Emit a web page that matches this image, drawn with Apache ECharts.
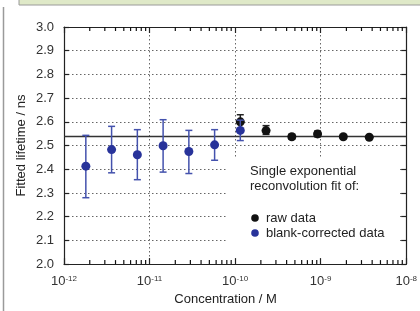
<!DOCTYPE html>
<html>
<head>
<meta charset="utf-8">
<script src="https://cdn.jsdelivr.net/npm/echarts@6/dist/echarts.min.js"></script>
<style>
  html, body { margin: 0; padding: 0; background: #fff; }
  #chart { width: 420px; height: 311px; }
</style>
</head>
<body>
<div id="chart"></div>
<script type="text/javascript">
    // blank-corrected data (blue)
    var blueConc = [1.8e-12, 3.6e-12, 7.2e-12, 1.44e-11, 2.88e-11, 5.76e-11, 1.15e-10];
    var blueLife = [2.413, 2.483, 2.461, 2.499, 2.475, 2.503, 2.564];
    var blueLow  = [2.280, 2.385, 2.356, 2.388, 2.382, 2.438, 2.521];
    var blueHigh = [2.543, 2.581, 2.567, 2.609, 2.564, 2.567, 2.607];

    // raw data (black)
    var rawConc = [1.15e-10, 2.3e-10, 4.6e-10, 9.2e-10, 1.84e-9, 3.7e-9];
    var rawLife = [2.600, 2.563, 2.537, 2.549, 2.537, 2.535];
    var rawLow  = [2.570, 2.547, 2.527, 2.537, 2.530, 2.530];
    var rawHigh = [2.630, 2.584, 2.547, 2.561, 2.544, 2.540];

    var fitLife = 2.54;
    var xMin = 1e-12, xMax = 1e-8;
    var yMin = 2.0, yMax = 3.0, yStep = 0.1;

    // minor ticks of the log axis (2..9 x 10^k)
    var minorTicks = [];
    for (var k = -12; k < -8; k++) {
        for (var m = 2; m <= 9; m++) {
            minorTicks.push([m * Math.pow(10, k), yMin]);
        }
    }

    var font = 'Liberation Sans, Arial, sans-serif';
    var axisColor = '#222';
    var navy = '#28339a';
    var gridLine = { color: '#666', type: [1.5, 2.5], width: 1 };

    var chart = echarts.init(document.getElementById('chart'));

    function errData(xs, lo, hi) {
        return xs.map(function (x, i) { return [x, lo[i], hi[i]]; });
    }
    function pts(xs, ys) {
        return xs.map(function (x, i) { return [x, ys[i]]; });
    }

    function errorBars(color) {
        return function (params, api) {
            var top = api.coord([api.value(0), api.value(2)]);
            var bot = api.coord([api.value(0), api.value(1)]);
            var w = 3.5;
            var st = { stroke: color, lineWidth: 1.5 };
            return {
                type: 'group',
                children: [
                    { type: 'line', shape: { x1: top[0], y1: top[1], x2: bot[0], y2: bot[1] }, style: st },
                    { type: 'line', shape: { x1: top[0] - w, y1: top[1], x2: top[0] + w, y2: top[1] }, style: st },
                    { type: 'line', shape: { x1: bot[0] - w, y1: bot[1], x2: bot[0] + w, y2: bot[1] }, style: st }
                ]
            };
        };
    }

    var option = {
        animation: false,
        textStyle: { fontFamily: font },
        grid: { left: 64, right: 12, top: 27, bottom: 46 },
        xAxis: [
            {
                type: 'log', logBase: 10, min: xMin, max: xMax,
                name: 'Concentration / M', nameLocation: 'middle', nameGap: 28,
                nameTextStyle: { fontSize: 13, color: '#222', padding: [0, 19, 0, 0] },
                axisLine: { lineStyle: { color: axisColor, width: 1.2 } },
                axisTick: { inside: true, length: 6, lineStyle: { color: axisColor, width: 1.2 } },
                axisLabel: {
                    fontSize: 13, color: '#333', margin: 11,
                    formatter: function (v) {
                        return '10{s|' + Math.round(Math.log(v) / Math.LN10) + '}';
                    },
                    rich: { s: { fontSize: 8, verticalAlign: 'top', color: '#333' } }
                },
                splitLine: { show: true, lineStyle: gridLine }
            },
            {
                type: 'log', logBase: 10, min: xMin, max: xMax, position: 'top',
                axisLine: { lineStyle: { color: axisColor, width: 1.2 } },
                axisTick: { inside: true, length: 6, lineStyle: { color: axisColor, width: 1.2 } },
                axisLabel: { show: false },
                splitLine: { show: false }
            }
        ],
        yAxis: [
            {
                type: 'value', min: yMin, max: yMax, interval: yStep,
                name: 'Fitted lifetime / ns', nameLocation: 'middle', nameGap: 36,
                nameMoveOverlap: false,
                nameTextStyle: { fontSize: 13, color: '#222' },
                axisLine: { show: true, lineStyle: { color: axisColor, width: 1.2 } },
                axisTick: { show: true, inside: true, length: 5, lineStyle: { color: axisColor, width: 1.2 } },
                axisLabel: {
                    fontSize: 13, color: '#333', margin: 10,
                    formatter: function (v) { return v.toFixed(1); }
                },
                splitLine: { show: true, lineStyle: gridLine }
            },
            {
                type: 'value', min: yMin, max: yMax, interval: yStep, position: 'right',
                axisLine: { show: true, lineStyle: { color: axisColor, width: 1.2 } },
                axisTick: { show: true, inside: true, length: 5, lineStyle: { color: axisColor, width: 1.2 } },
                axisLabel: { show: false },
                splitLine: { show: false }
            }
        ],
        graphic: [
            // figure frame
            { type: 'rect', shape: { x: 19, y: -2, width: 410, height: 7 },
              style: { fill: '#dfe9c8', stroke: '#9a9a9a', lineWidth: 1 }, z: 10 },
            { type: 'line', shape: { x1: 3.5, y1: 7, x2: 3.5, y2: 311 },
              style: { stroke: '#9a9a9a', lineWidth: 1.5 }, z: 10 },
            // legend box
            { type: 'rect', shape: { x: 227, y: 157, width: 172, height: 100 },
              style: { fill: '#fff' }, z: 5 },
            { type: 'text', x: 250, y: 171, z: 6,
              style: { text: 'Single exponential', font: '13px ' + font, fill: '#222', verticalAlign: 'middle' } },
            { type: 'text', x: 250, y: 186, z: 6,
              style: { text: 'reconvolution fit of:', font: '13px ' + font, fill: '#222', verticalAlign: 'middle' } },
            { type: 'circle', shape: { cx: 255, cy: 218, r: 3.8 }, style: { fill: '#111' }, z: 6 },
            { type: 'text', x: 266, y: 218, z: 6,
              style: { text: 'raw data', font: '13px ' + font, fill: '#222', verticalAlign: 'middle' } },
            { type: 'circle', shape: { cx: 255, cy: 233, r: 3.8 }, style: { fill: navy }, z: 6 },
            { type: 'text', x: 266, y: 233, z: 6,
              style: { text: 'blank-corrected data', font: '13px ' + font, fill: '#222', verticalAlign: 'middle' } }
        ],
        series: [
            {
                // minor log ticks on top and bottom axes
                name: 'minor ticks', type: 'custom', z: 8, clip: false, silent: true,
                data: minorTicks,
                renderItem: function (params, api) {
                    var b = api.coord([api.value(0), yMin]);
                    var t = api.coord([api.value(0), yMax]);
                    var st = { stroke: '#111', lineWidth: 1.2 };
                    return {
                        type: 'group',
                        children: [
                            { type: 'line', shape: { x1: b[0], y1: b[1], x2: b[0], y2: b[1] - 4 }, style: st },
                            { type: 'line', shape: { x1: t[0], y1: t[1], x2: t[0], y2: t[1] + 4 }, style: st }
                        ]
                    };
                }
            },
            {
                name: 'fit', type: 'line', data: [], z: 3,
                markLine: {
                    silent: true, symbol: 'none', label: { show: false },
                    lineStyle: { color: '#333', width: 1.3, type: 'solid' },
                    data: [{ yAxis: fitLife }]
                }
            },
            {
                name: 'raw err', type: 'custom', z: 4,
                data: errData(rawConc, rawLow, rawHigh),
                renderItem: errorBars('#222')
            },
            {
                name: 'raw data', type: 'scatter', z: 5,
                symbolSize: 9, itemStyle: { color: '#111', opacity: 1 },
                data: pts(rawConc, rawLife)
            },
            {
                name: 'blank err', type: 'custom', z: 6,
                data: errData(blueConc, blueLow, blueHigh),
                renderItem: errorBars('#4452ad')
            },
            {
                name: 'blank-corrected data', type: 'scatter', z: 7,
                symbolSize: 9, itemStyle: { color: navy, opacity: 1 },
                data: pts(blueConc, blueLife)
            }
        ]
    };

    chart.setOption(option);
</script>
</body>
</html>
